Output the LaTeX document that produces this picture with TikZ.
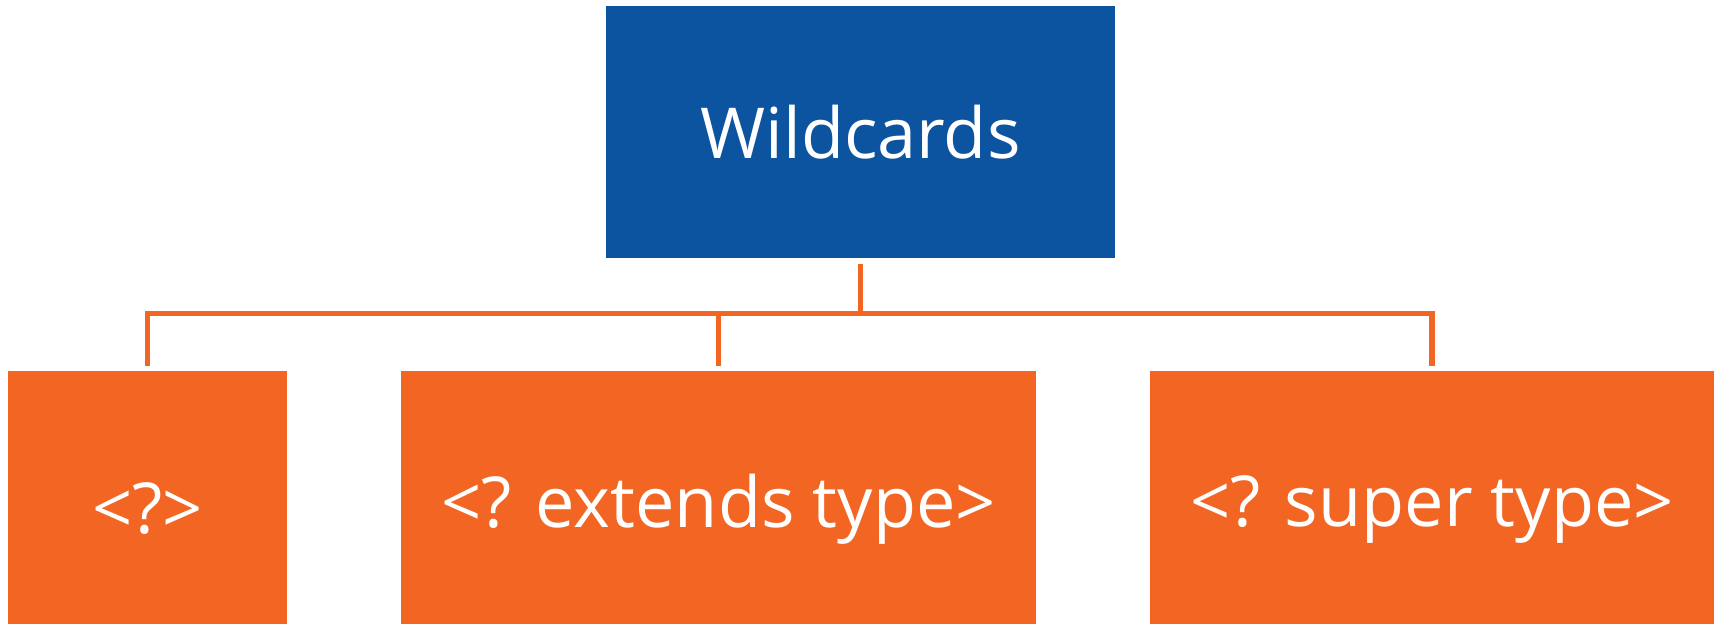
\documentclass[tikz,border=0pt]{standalone}
\usepackage{fontspec}
\setmainfont{Open Sans}
\usepackage{xcolor}
\usetikzlibrary{calc,positioning}
\definecolor{mblue}{HTML}{0C53A0}
\definecolor{morange}{HTML}{F26522}
\tikzstyle{box}=[rectangle, inner sep=0pt, text=white, font=\fontsize{40}{48}\selectfont]
\tikzstyle{root}=[box, fill=mblue, minimum width=509*0.02cm, minimum height=252*0.02cm]
\tikzstyle{leaf}=[box, fill=morange, minimum height=276*0.02cm]
\tikzstyle{l1}=[line width=2.9pt, draw=morange]

\begin{document}
\begin{tikzpicture}[x=0.02cm,y=-0.02cm]
    \useasboundingbox (0,0) rectangle (1717,623);
    \node[root] (wild) at (860.5, 132) {Wildcards};
    \node[leaf, minimum width=279*0.02cm] (any) at (147.5, 509) {<?>};
    \node[leaf, minimum width=635*0.02cm] (ext) at (718.5, 509) {<? extends type>};
    \node[leaf, minimum width=564*0.02cm] (sup) at (1432, 509) {<? super type>};

    \draw[l1] ($(wild.south)+(0,6)$) -- ($(wild.south)+(0,56)$);
    \draw[l1] ($(any.north)+(0,-5)$) |- ($(sup.north)+(0,-57)$) -- ($(sup.north)+(0,-5)$);
    \draw[l1] ($(ext.north)+(0,-5)$) -- ($(ext.north)+(0,-57)$);
\end{tikzpicture}
\end{document}
